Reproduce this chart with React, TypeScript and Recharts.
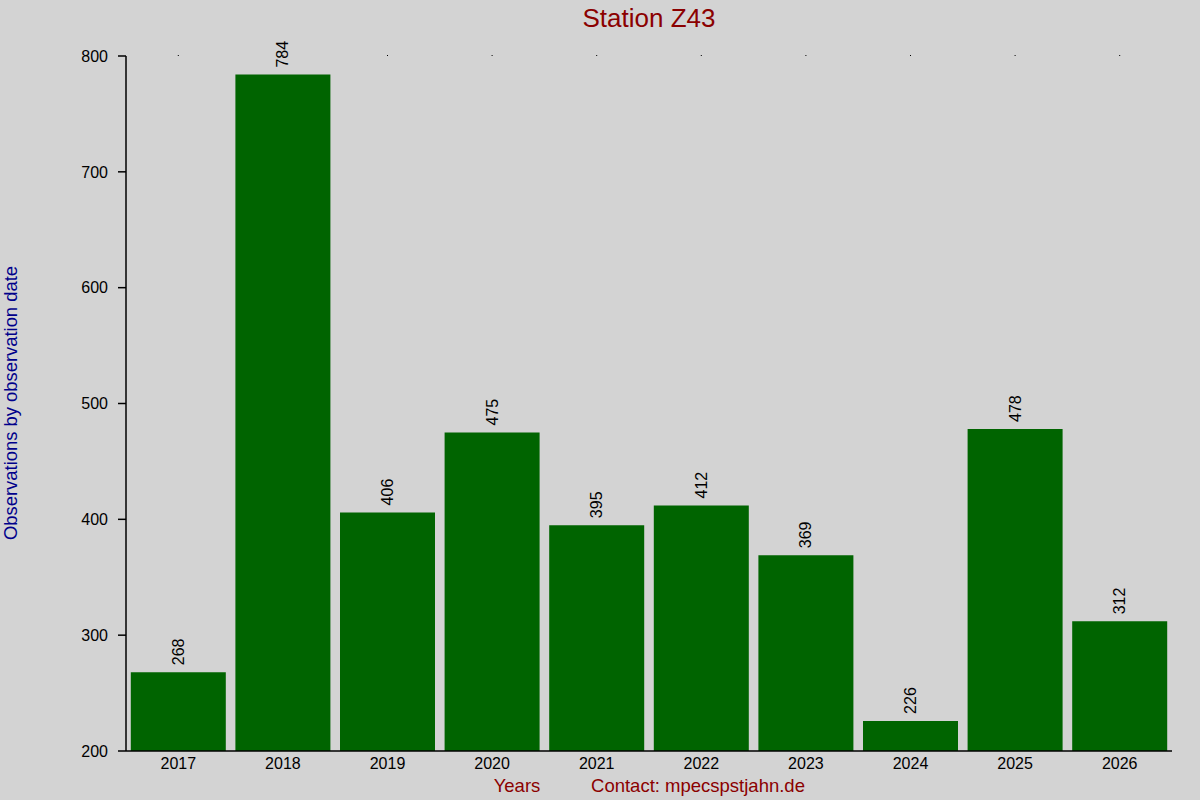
import React from 'react';
import { BarChart, Bar, XAxis, YAxis, LabelList, Label } from 'recharts';

const years = ['2017', '2018', '2019', '2020', '2021', '2022', '2023', '2024', '2025', '2026'];
const observations = [268, 784, 406, 475, 395, 412, 369, 226, 478, 312];
const yTicks = [200, 300, 400, 500, 600, 700, 800];

const chartTitle = 'Station Z43';
const yTitle = 'Observations by observation date';
const xTitle = 'Years';
const contactText = 'Contact: mpecspstjahn.de';

const data = years.map((y, i) => ({ year: y, value: observations[i] }));

const FONT = '"Liberation Sans", Arial, Helvetica, sans-serif';
const TITLE_RED = '#8b0000';
const LABEL_BLUE = '#00008b';

const ValueLabel = (props: any) => {
  const { x, y, width, value } = props;
  const cx = x + width / 2;
  const ty = y - 7;
  return (
    <text
      x={cx}
      y={ty}
      transform={`rotate(-90, ${cx}, ${ty})`}
      textAnchor="start"
      dominantBaseline="central"
      fontSize={16}
      fontFamily={FONT}
      fill="#000"
    >
      {value}
    </text>
  );
};

const EmptyTick = () => <g />;

const BottomContent = () => (
  <g>
    <text x={517} y={792} textAnchor="middle" fontSize={18.5} fontFamily={FONT} fill={TITLE_RED}>
      {xTitle}
    </text>
    <text x={698} y={792} textAnchor="middle" fontSize={18.5} fontFamily={FONT} fill={TITLE_RED}>
      {contactText}
    </text>
  </g>
);

const LeftContent = () => (
  <g>
    <text x={649} y={27} textAnchor="middle" fontSize={26} fontFamily={FONT} fill={TITLE_RED}>
      {chartTitle}
    </text>
    <text
      x={17}
      y={403}
      transform="rotate(-90, 17, 403)"
      textAnchor="middle"
      fontSize={18.4}
      fontFamily={FONT}
      fill={LABEL_BLUE}
    >
      {yTitle}
    </text>
  </g>
);

export default function App() {
  return (
    <div style={{ position: 'absolute', left: 0, top: 0, width: 1200, height: 800, background: '#d3d3d3' }}>
      <BarChart
        width={1200}
        height={800}
        data={data}
        margin={{ top: 55, right: 28, bottom: 19, left: 66 }}
        barCategoryGap={4.8}
        style={{ fontFamily: FONT }}
      >
        <XAxis
          xAxisId="top"
          dataKey="year"
          orientation="top"
          height={1}
          axisLine={false}
          tick={EmptyTick}
          tickLine={{ stroke: '#000', strokeWidth: 1 }}
          tickSize={1}
          interval={0}
        />
        <XAxis
          dataKey="year"
          height={30}
          axisLine={{ stroke: '#000', strokeWidth: 1.5 }}
          tickLine={false}
          tickSize={0}
          tickMargin={7}
          tick={{ fill: '#000', fontSize: 16, fontFamily: FONT }}
          interval={0}
        >
          <Label content={BottomContent} />
        </XAxis>
        <YAxis
          domain={[200, 800]}
          ticks={yTicks}
          width={60}
          axisLine={{ stroke: '#000', strokeWidth: 1.5 }}
          tickLine={{ stroke: '#000', strokeWidth: 1.5 }}
          tickSize={8}
          tickMargin={10}
          tick={{ fill: '#000', fontSize: 16, fontFamily: FONT }}
          allowDataOverflow
        >
          <Label content={LeftContent} />
        </YAxis>
        <Bar dataKey="value" fill="#006400" isAnimationActive={false}>
          <LabelList dataKey="value" content={ValueLabel} />
        </Bar>
      </BarChart>
    </div>
  );
}
